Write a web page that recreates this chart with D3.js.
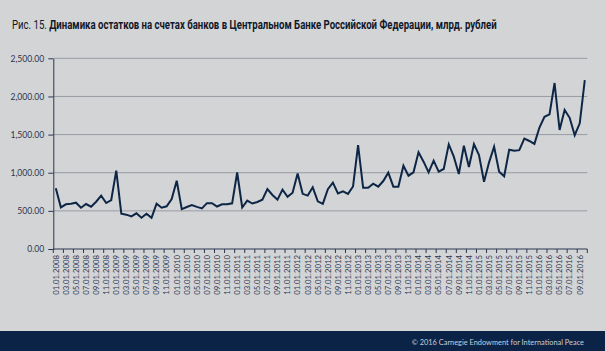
<!DOCTYPE html>
<html><head><meta charset="utf-8">
<script src="https://cdn.jsdelivr.net/npm/d3@7"></script>
<style>
html,body{margin:0;padding:0;background:#d3d4d6;}
svg{display:block;}
</style></head>
<body>
<svg id="chart" width="605" height="351"></svg>
<script>
const titlePrefix = "Рис. 15. ";
const titleMain = "Динамика остатков на счетах банков в Центральном Банке Российской Федерации, млрд. рублей";
const footerText = "© 2016 Carnegie Endowment for International Peace";

// monthly categories Jan 2008 – Oct 2016
const years = [2008,2009,2010,2011,2012,2013,2014,2015,2016];
const categories = [];
years.forEach(y => { for (let m = 1; m <= 12; m++) { if (y === 2016 && m > 10) break; categories.push(String(m).padStart(2,"0") + ".01." + y); } });

const values = [
 796,546,586,594,607,541,590,555,620,699,603,642,
 1027,463,450,428,468,410,463,410,594,541,560,655,
 895,522,550,575,552,533,601,601,557,586,586,599,
 1003,544,634,596,616,646,785,708,646,778,684,738,
 990,723,700,809,625,592,785,871,728,755,723,820,
 1363,804,804,856,817,891,1001,817,817,1092,961,1005,
 1267,1145,1005,1158,1014,1049,1372,1210,983,1354,1075,1376,
 1232,882,1136,1341,1014,953,1302,1287,1296,1446,1416,1378,
 1592,1733,1766,2176,1560,1822,1720,1492,1648,2215
];
const yTicks = [0,500,1000,1500,2000,2500];

const svg = d3.select("#chart");
const W = 605, H = 351;
const x0 = 53.3, x1 = 587.3, yTop = 58.3, yBot = 249;

// title (condensed to match the reference width)
const tg = svg.append("g");
const t = tg.append("text").attr("x", 0).attr("y", 0)
  .attr("font-family", "Roboto, 'Open Sans', sans-serif").attr("font-size", 12).attr("fill", "#10182a");
t.append("tspan").attr("font-weight", 400).text(titlePrefix);
t.append("tspan").attr("font-weight", 700).text(titleMain);
const tw = t.node().getComputedTextLength();
tg.attr("transform", `translate(12,28.5) scale(${485 / tw},1)`);

const x = d3.scaleBand().domain(categories).range([x0, x1]).padding(0);
const y = d3.scaleLinear().domain([0, 2500]).range([yBot, yTop]);

// gridlines
svg.append("g").selectAll("line").data(yTicks.filter(d => d > 0)).join("line")
  .attr("x1", x0).attr("x2", x1).attr("y1", d => y(d)).attr("y2", d => y(d))
  .attr("stroke", "#989ca3").attr("stroke-width", 1);

// y axis
const yAxis = d3.axisLeft(y).tickValues(yTicks).tickSize(5).tickSizeOuter(0)
  .tickFormat(d => d3.format(",.2f")(d));
const gy = svg.append("g").attr("transform", `translate(${x0},0)`).call(yAxis);
gy.select(".domain").attr("stroke", "#2b3650").attr("stroke-width", 1);
gy.selectAll(".tick line").attr("stroke", "#2b3650");
gy.selectAll("text").attr("font-family", "Lato, 'Open Sans', sans-serif").attr("font-size", 8.6)
  .attr("fill", "#2b3650").attr("dx", -1);

// x axis: ticks at category boundaries every 2 months, labels every 2 months
const gx = svg.append("g").attr("transform", `translate(0,${yBot})`);
gx.append("line").attr("x1", x0).attr("x2", x1).attr("y1", 0).attr("y2", 0)
  .attr("stroke", "#2b3650").attr("stroke-width", 1);
const bounds = categories.filter((d, i) => i % 2 === 0).map(d => x(d)).concat([x1]);
gx.selectAll("line.tk").data(bounds).join("line").attr("class", "tk")
  .attr("x1", d => d).attr("x2", d => d).attr("y1", 0).attr("y2", 4)
  .attr("stroke", "#2b3650").attr("stroke-width", 1);
gx.selectAll("text").data(categories.filter((d, i) => i % 2 === 0)).join("text")
  .attr("transform", d => `translate(${x(d) + x.bandwidth()/2 + 2.8},6) rotate(-90)`)
  .attr("text-anchor", "end")
  .attr("font-family", "Lato, 'Open Sans', sans-serif").attr("font-size", 7.8)
  .attr("fill", "#2b3650").text(d => d);

// line
const line = d3.line().x((d, i) => x(categories[i]) + x.bandwidth()/2).y(d => y(d));
svg.append("path").datum(values).attr("d", line).attr("fill", "none")
  .attr("stroke", "#0d2646").attr("stroke-width", 2).attr("stroke-linejoin", "miter");

// footer
svg.append("rect").attr("x", 0).attr("y", 331).attr("width", W).attr("height", H - 331).attr("fill", "#0b2347");
svg.append("text").attr("x", 584).attr("y", 344.5).attr("text-anchor", "end")
  .attr("font-family", "Lato, 'Open Sans', sans-serif").attr("font-size", 7.4)
  .attr("fill", "#c9ced8").text(footerText);
</script>
</body></html>
